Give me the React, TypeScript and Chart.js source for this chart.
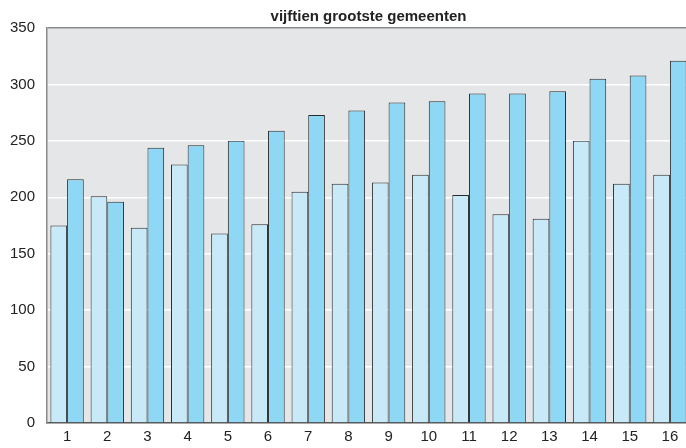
import React, { useEffect, useRef } from "react";
import { Chart, registerables } from "chart.js";

Chart.register(...registerables);

const categories = ["1", "2", "3", "4", "5", "6", "7", "8", "9", "10", "11", "12", "13", "14", "15", "16"];
const seriesA = [175, 201, 173, 229, 168, 176, 205, 212, 213, 220, 202, 185, 181, 250, 212, 220];
const seriesB = [216, 196, 244, 246, 250, 259, 273, 277, 284, 285, 292, 292, 294, 305, 308, 321];
const titleText = "vijftien grootste gemeenten";

const FONT = "'Liberation Sans', Arial, sans-serif";

const bgPlugin = {
  id: "plotBg",
  beforeDraw(chart: any) {
    const { ctx, chartArea } = chart;
    if (!chartArea) return;
    ctx.save();
    ctx.fillStyle = "#e5e6e8";
    ctx.fillRect(chartArea.left, chartArea.top, chartArea.right - chartArea.left, chartArea.bottom - chartArea.top);
    ctx.restore();
  },
};

export default function App() {
  const ref = useRef<HTMLCanvasElement | null>(null);
  useEffect(() => {
    document.body.style.margin = "0";
    const chart = new Chart(ref.current as HTMLCanvasElement, {
      type: "bar",
      data: {
        labels: categories,
        datasets: [
          {
            data: seriesA,
            backgroundColor: "#c8e9f8",
            borderColor: "#2a2a2a",
            borderWidth: 1,
            barPercentage: 1,
            categoryPercentage: 0.83,
          },
          {
            data: seriesB,
            backgroundColor: "#8fd8f5",
            borderColor: "#2a2a2a",
            borderWidth: 1,
            barPercentage: 1,
            categoryPercentage: 0.83,
          },
        ],
      },
      options: {
        responsive: false,
        animation: false,
        devicePixelRatio: 1,
        layout: { padding: 0 },
        plugins: {
          legend: { display: false },
          tooltip: { enabled: false },
          title: {
            display: true,
            text: titleText,
            fullSize: false,
            color: "#222",
            font: { family: FONT, size: 15, weight: "bold", lineHeight: 1.2 },
            padding: { top: 8, bottom: 2 },
          },
        },
        scales: {
          x: {
            grid: { display: false, drawTicks: false },
            border: { display: true, color: "#555", width: 1.5 },
            ticks: {
              color: "#222",
              padding: 5,
              font: { family: FONT, size: 15 },
              maxRotation: 0,
            },
            afterFit: (s: any) => {
              s.height = 25;
            },
          },
          y: {
            min: 0,
            max: 350,
            grid: {
              drawTicks: false,
              color: (c: any) => (c.tick && c.tick.value === 350 ? "#8a8a8a" : "#ffffff"),
              lineWidth: 1.5,
            },
            border: { display: true, color: "#8a8a8a", width: 1.5 },
            ticks: {
              stepSize: 50,
              color: "#222",
              padding: 12,
              font: { family: FONT, size: 15 },
            },
            afterFit: (s: any) => {
              s.width = 47;
            },
          },
        },
      },
      plugins: [bgPlugin],
    } as any);
    return () => chart.destroy();
  }, []);
  return (
    <div style={{ position: "fixed", left: 0, top: 0, width: 686, height: 448, overflow: "hidden", background: "#fff" }}>
      <canvas ref={ref} width={690} height={448} style={{ width: 690, height: 448, display: "block" }} />
    </div>
  );
}
